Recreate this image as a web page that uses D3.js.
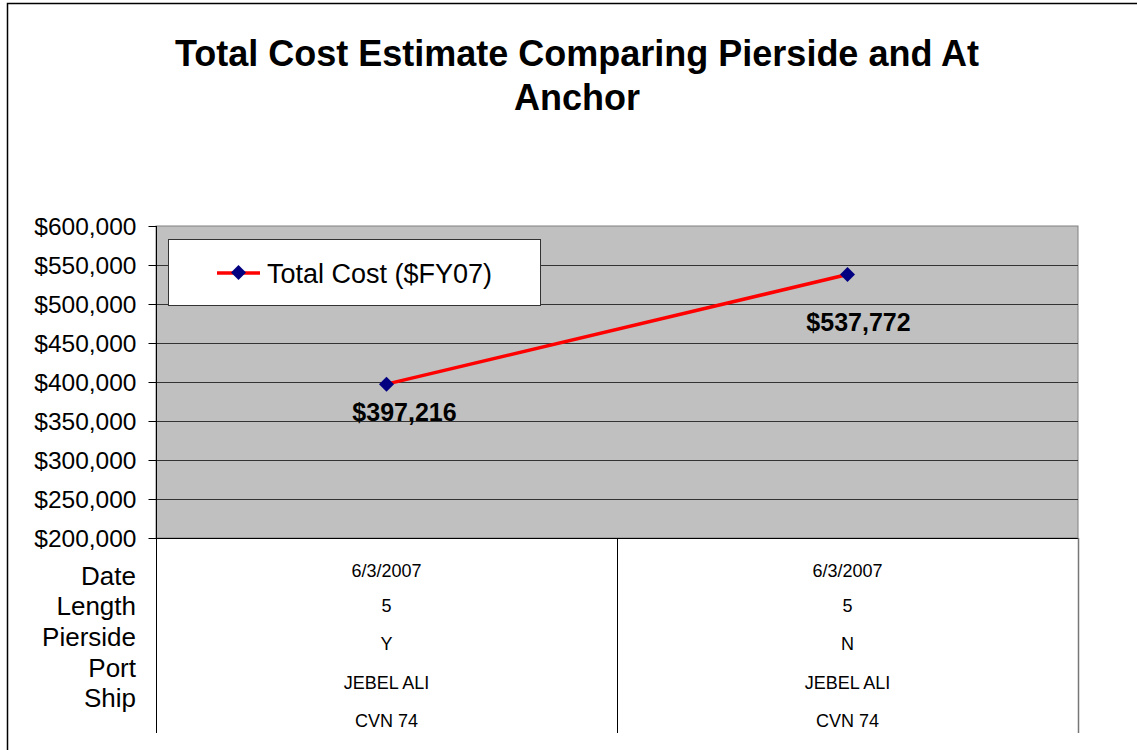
<!DOCTYPE html>
<html>
<head>
<meta charset="utf-8">
<script src="https://cdn.jsdelivr.net/npm/d3@7"></script>
<style>
  body { margin: 0; background: #fff; }
  svg { display: block; font-family: "Liberation Sans", Arial, sans-serif; }
</style>
</head>
<body>
<div id="chart"></div>
<script>
// data
var categories = ["A", "B"];
var totalCost = [397216, 537772];
var rowLabels = ["Date", "Length", "Pierside", "Port", "Ship"];
var dates = ["6/3/2007", "6/3/2007"];
var lengths = ["5", "5"];
var pierside = ["Y", "N"];
var ports = ["JEBEL ALI", "JEBEL ALI"];
var ships = ["CVN 74", "CVN 74"];
var yTicks = [200000, 250000, 300000, 350000, 400000, 450000, 500000, 550000, 600000];

width = 1137;
height = 750;

plotLeft = 156;
plotTop = 226;
plotRight = 1078;
plotBottom = 538;

// label offsets below each point (Excel put them a bit unevenly)
labelDx = [18, 11];
labelDy = [37, 56];

svg = d3.select("#chart").append("svg")
    .attr("width", width)
    .attr("height", height);

// outer frame
svg.append("rect")
    .attr("x", 7.5).attr("y", 3.5)
    .attr("width", width + 20).attr("height", height + 20)
    .attr("fill", "#fff")
    .attr("stroke", "#000").attr("stroke-width", 1.5);

// title
svg.append("text")
    .attr("x", 577).attr("y", 66)
    .attr("text-anchor", "middle")
    .style("font-size", "36px").style("font-weight", "bold")
    .text("Total Cost Estimate Comparing Pierside and At");
svg.append("text")
    .attr("x", 577).attr("y", 110)
    .attr("text-anchor", "middle")
    .style("font-size", "36px").style("font-weight", "bold")
    .text("Anchor");

// scales
xScale = d3.scaleBand().domain(categories).range([plotLeft, plotRight]);
yScale = d3.scaleLinear().domain([200000, 600000]).range([plotBottom, plotTop]);

// plot background
svg.append("rect")
    .attr("x", plotLeft).attr("y", plotTop)
    .attr("width", plotRight - plotLeft).attr("height", plotBottom - plotTop)
    .attr("fill", "#c0c0c0")
    .attr("stroke", "#808080").attr("stroke-width", 1);

// gridlines
svg.append("g")
    .selectAll("line")
    .data(yTicks.slice(1, -1)).enter()
    .append("line")
    .attr("x1", plotLeft).attr("x2", plotRight)
    .attr("y1", d => Math.round(yScale(d)) + 0.5)
    .attr("y2", d => Math.round(yScale(d)) + 0.5)
    .attr("stroke", "#333").attr("stroke-width", 1);

// y axis
yAxis = d3.axisLeft(yScale)
    .tickValues(yTicks)
    .tickSize(8)
    .tickFormat(d => "$" + d3.format(",")(d));

yAxisG = svg.append("g")
    .attr("transform", `translate(${plotLeft + 0.5}, 0)`)
    .call(yAxis);
yAxisG.select(".domain").remove();
yAxisG.selectAll(".tick line").attr("stroke", "#000");
yAxisG.selectAll(".tick text")
    .attr("x", -20)
    .attr("dy", "0.36em")
    .attr("fill", "#000")
    .style("font-size", "24.5px")
    .style("font-family", "'Liberation Sans', Arial, sans-serif");

svg.append("line")
    .attr("x1", plotLeft + 0.5).attr("x2", plotLeft + 0.5)
    .attr("y1", plotTop).attr("y2", 733)
    .attr("stroke", "#000");
svg.append("line")
    .attr("x1", plotLeft).attr("x2", plotRight)
    .attr("y1", plotBottom + 0.5).attr("y2", plotBottom + 0.5)
    .attr("stroke", "#000");

// data table
var tableRows = [dates, lengths, pierside, ports, ships];
var cellY = [571, 606, 644, 683, 721];
var labelY = [576, 606, 637, 668, 698];

svg.append("line")
    .attr("x1", 617.5).attr("x2", 617.5)
    .attr("y1", plotBottom).attr("y2", 733)
    .attr("stroke", "#000");
svg.append("line")
    .attr("x1", plotRight + 0.5).attr("x2", plotRight + 0.5)
    .attr("y1", plotBottom).attr("y2", 733)
    .attr("stroke", "#777").attr("stroke-width", 1.5);

svg.append("g")
    .selectAll("text")
    .data(rowLabels).enter()
    .append("text")
    .attr("x", 136)
    .attr("y", (d, i) => labelY[i])
    .attr("dy", "0.36em")
    .attr("text-anchor", "end")
    .style("font-size", "26px")
    .text(d => d);

tableRows.forEach(function(row, r) {
    svg.append("g")
        .selectAll("text")
        .data(row).enter()
        .append("text")
        .attr("x", (d, i) => xScale(categories[i]) + xScale.bandwidth() / 2)
        .attr("y", cellY[r])
        .attr("dy", "0.36em")
        .attr("text-anchor", "middle")
        .style("font-size", "18px")
        .text(d => d);
});

// line
var points = categories.map((c, i) => ({ cat: c, v: totalCost[i], i: i }));
line = d3.line()
    .x(d => xScale(d.cat) + xScale.bandwidth() / 2)
    .y(d => yScale(d.v));

svg.append("path")
    .datum(points)
    .attr("d", line)
    .attr("fill", "none")
    .attr("stroke", "#ff0000")
    .attr("stroke-width", 3.5);

diamond = d3.symbol().type(d3.symbolSquare).size(112);

svg.append("g")
    .selectAll("path")
    .data(points).enter()
    .append("path")
    .attr("d", diamond)
    .attr("transform", d => `translate(${xScale(d.cat) + xScale.bandwidth() / 2}, ${yScale(d.v)}) rotate(45)`)
    .attr("fill", "#000080");

svg.append("g")
    .selectAll("text")
    .data(points).enter()
    .append("text")
    .attr("x", d => xScale(d.cat) + xScale.bandwidth() / 2 + labelDx[d.i])
    .attr("y", d => yScale(d.v) + labelDy[d.i])
    .attr("text-anchor", "middle")
    .style("font-size", "25px").style("font-weight", "bold")
    .text(d => "$" + d3.format(",")(d.v));

// legend
legend = svg.append("g");
legend.append("rect")
    .attr("x", 168.5).attr("y", 239.5)
    .attr("width", 372).attr("height", 66)
    .attr("fill", "#fff")
    .attr("stroke", "#333");
legend.append("line")
    .attr("x1", 217).attr("x2", 260)
    .attr("y1", 273).attr("y2", 273)
    .attr("stroke", "#ff0000").attr("stroke-width", 3.5);
legend.append("path")
    .attr("d", diamond)
    .attr("transform", "translate(238.5,272.5) rotate(45)")
    .attr("fill", "#000080");
legend.append("text")
    .attr("x", 267).attr("y", 273)
    .attr("dy", "0.36em")
    .style("font-size", "27px")
    .text("Total Cost ($FY07)");
</script>
</body>
</html>
